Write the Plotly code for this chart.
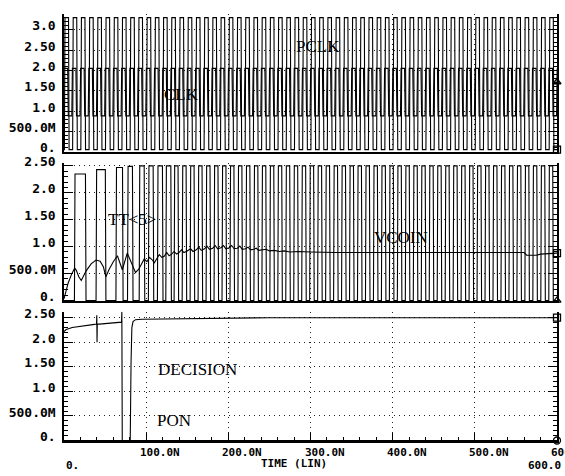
import numpy as np
import plotly.graph_objects as go
from plotly.subplots import make_subplots

T_END = 600.0

# ---------------- panel 1 : PCLK / CLK (edge times in ns) ----------------
PCLK_rise = [0.5, 10.5, 20.5, 30.5, 40.5, 50.5, 60.5, 70.5, 80.5, 90.5,
             100.5, 110.5, 120.5, 130.5, 140.5, 150.5, 160.5, 170.5, 180.5, 190.5,
             200.5, 210.5, 220.5, 230.5, 240.5, 250.5, 260.5, 270.5, 280.5, 290.5,
             300.5, 310.5, 320.5, 330.5, 340.5, 350.5, 360.5, 370.5, 380.5, 390.5,
             400.5, 410.5, 420.5, 430.5, 440.5, 450.5, 460.5, 470.5, 480.5, 490.5,
             500.5, 510.5, 520.5, 530.5, 540.5, 550.5, 560.5, 570.5, 580.5, 590.5]
PCLK_fall = [5.5, 15.5, 25.5, 35.5, 45.5, 55.5, 65.5, 75.5, 85.5, 95.5,
             105.5, 115.5, 125.5, 135.5, 145.5, 155.5, 165.5, 175.5, 185.5, 195.5,
             205.5, 215.5, 225.5, 235.5, 245.5, 255.5, 265.5, 275.5, 285.5, 295.5,
             305.5, 315.5, 325.5, 335.5, 345.5, 355.5, 365.5, 375.5, 385.5, 395.5,
             405.5, 415.5, 425.5, 435.5, 445.5, 455.5, 465.5, 475.5, 485.5, 495.5,
             505.5, 515.5, 525.5, 535.5, 545.5, 555.5, 565.5, 575.5, 585.5, 595.5]
PCLK_low, PCLK_high = 0.05, 3.30

CLK_fall = [4.5, 14.5, 24.5, 34.5, 44.5, 54.5, 64.5, 74.5, 84.5, 94.5,
            104.5, 114.5, 124.5, 134.5, 144.5, 154.5, 164.5, 174.5, 184.5, 194.5,
            204.5, 214.5, 224.5, 234.5, 244.5, 254.5, 264.5, 274.5, 284.5, 294.5,
            304.5, 314.5, 324.5, 334.5, 344.5, 354.5, 364.5, 374.5, 384.5, 394.5,
            404.5, 414.5, 424.5, 434.5, 444.5, 454.5, 464.5, 474.5, 484.5, 494.5,
            504.5, 514.5, 524.5, 534.5, 544.5, 554.5, 564.5, 574.5, 584.5, 594.5]
CLK_rise = [9.5, 19.5, 29.5, 39.5, 49.5, 59.5, 69.5, 79.5, 89.5, 99.5,
            109.5, 119.5, 129.5, 139.5, 149.5, 159.5, 169.5, 179.5, 189.5, 199.5,
            209.5, 219.5, 229.5, 239.5, 249.5, 259.5, 269.5, 279.5, 289.5, 299.5,
            309.5, 319.5, 329.5, 339.5, 349.5, 359.5, 369.5, 379.5, 389.5, 399.5,
            409.5, 419.5, 429.5, 439.5, 449.5, 459.5, 469.5, 479.5, 489.5, 499.5,
            509.5, 519.5, 529.5, 539.5, 549.5, 559.5, 569.5, 579.5, 589.5, 599.5]
CLK_low, CLK_high = 0.88, 2.05

# ---------------- panel 2 : TT<5> / VCOIN ----------------
TT5_rise = [12.7, 39.0, 63.2, 77.3, 91.5, 102.7, 113.7, 123.9, 134.0,
            143.8, 153.5, 163.2, 172.9, 182.6, 192.3, 202.0, 211.7, 221.4, 231.1,
            240.8, 250.5, 260.2, 269.9, 279.6, 289.3, 299.0, 308.7, 318.4, 328.1,
            337.8, 347.5, 357.2, 366.9, 376.6, 386.3, 396.0, 405.7, 415.4, 425.1,
            434.8, 444.5, 454.2, 463.9, 473.6, 483.3, 493.0, 502.7, 512.4, 522.1,
            531.8, 541.5, 551.2, 560.9, 570.6, 580.3, 590.0]
TT5_fall = [26.1, 50.3, 71.2, 83.3, 97.6, 108.5, 119.8, 130.0, 138.8,
            148.6, 158.3, 168.0, 177.7, 187.4, 197.1, 206.8, 216.5, 226.2, 235.9,
            245.6, 255.3, 265.0, 274.7, 284.4, 294.1, 303.8, 313.5, 323.2, 332.9,
            342.6, 352.3, 362.0, 371.7, 381.4, 391.1, 400.8, 410.5, 420.2, 429.9,
            439.6, 449.3, 459.0, 468.7, 478.4, 488.1, 497.8, 507.5, 517.2, 526.9,
            536.6, 546.3, 556.0, 565.7, 575.4, 585.1, 594.8]
TT5_first_tops = [2.35, 2.43, 2.47, 2.49]
TT5_low, TT5_high = 0.0, 2.50

VCOIN_t = [0, 2, 5, 9, 13, 15, 18, 21, 27, 33, 39, 44, 48, 51, 55, 60, 65, 68, 71,
           77, 81, 84, 87, 91, 97.6, 101, 104, 107, 110, 113, 116, 119, 122, 125,
           128, 131, 134, 137, 140, 143, 146, 150, 154, 157, 161, 164, 167, 171,
           174, 177, 181, 184, 187, 191, 194, 197, 201, 204, 207, 211, 214, 217,
           221, 224, 227, 231, 234, 237, 241, 246, 250, 256, 262, 268, 275, 285,
           300, 330, 400, 500, 560, 563, 575, 580, 590, 600]
VCOIN_v = [0.03, 0.15, 0.32, 0.48, 0.60, 0.56, 0.44, 0.37, 0.55, 0.68, 0.75, 0.73,
           0.62, 0.44, 0.58, 0.72, 0.83, 0.70, 0.57, 0.88, 0.74, 0.60, 0.52, 0.58,
           0.77, 0.72, 0.80, 0.76, 0.70, 0.78, 0.85, 0.80, 0.82, 0.89, 0.83, 0.86,
           0.91, 0.86, 0.89, 0.94, 0.89, 0.92, 0.96, 0.91, 0.94, 0.99, 0.93, 0.96,
           1.01, 0.95, 0.97, 1.02, 0.96, 0.98, 1.02, 0.96, 0.98, 1.02, 0.96, 0.97,
           1.01, 0.95, 0.96, 0.99, 0.94, 0.95, 0.97, 0.93, 0.94, 0.95, 0.92, 0.93,
           0.91, 0.92, 0.90, 0.91, 0.90, 0.89, 0.89, 0.89, 0.89, 0.84, 0.84, 0.86,
           0.87, 0.88]

# ---------------- panel 3 : DECISION / PON ----------------
PON_t = [0, 2.7, 10, 20, 27, 35, 39.6, 39.9, 40.2, 40.5, 43, 55, 69, 70.0, 70.4, 70.9, 600]
PON_v = [2.22, 2.26, 2.30, 2.33, 2.35, 2.36, 2.37, 2.55, 2.0, 2.37, 2.37, 2.39, 2.40,
         2.41, 2.62, 0.0, 0.0]
DEC_t = [0, 80.6, 81.6, 82.6, 84, 87, 95, 150, 250, 600]
DEC_v = [0, 0, 1.6, 2.30, 2.42, 2.46, 2.47, 2.48, 2.50, 2.50]

# ---------------- axis labels ----------------
Y1_vals = [0, 0.5, 1.0, 1.5, 2.0, 2.5, 3.0]
Y1_text = ["0.", "500.0M", "1.0", "1.50", "2.0", "2.50", "3.0"]
Y23_vals = [0, 0.5, 1.0, 1.5, 2.0, 2.5]
Y23_text = ["0.", "500.0M", "1.0", "1.50", "2.0", "2.50"]
X_vals = [100, 200, 300, 400, 500, 600]
X_text = ["100.0N", "200.0N", "300.0N", "400.0N", "500.0N", "600.0N"]

EDGE = 0.7  # ns, drawn transition width


def square(rises, falls, lo, hi, tops=None):
    ev = sorted([(t, 1) for t in rises] + [(t, 0) for t in falls])
    level = lo if ev[0][1] == 1 else hi
    xs, ys = [0.0], [level]
    k = 0
    for t, up in ev:
        if up:
            new = tops[k] if (tops is not None and k < len(tops)) else hi
            k += 1
        else:
            new = lo
        xs += [t, t + EDGE]
        ys += [level, new]
        level = new
    xs.append(max(T_END, xs[-1]))
    ys.append(level)
    return np.array(xs), np.array(ys)


pclk_x, pclk_y = square(PCLK_rise, PCLK_fall, PCLK_low, PCLK_high)
clk_x, clk_y = square(CLK_rise, CLK_fall, CLK_low, CLK_high)
tt_x, tt_y = square(TT5_rise, TT5_fall, TT5_low, TT5_high, TT5_first_tops)

fig = make_subplots(rows=3, cols=1, shared_xaxes=True)

LINE = dict(color="black", width=1.1)


def add_line(x, y, row):
    fig.add_trace(go.Scatter(x=x, y=y, mode="lines", line=LINE, hoverinfo="skip"),
                  row=row, col=1)


def add_end_marker(x, y, row, symbol):
    yv = float(np.interp(T_END, x, y))
    fig.add_trace(go.Scatter(x=[T_END], y=[yv], mode="markers", cliponaxis=False,
                             marker=dict(symbol=symbol, size=7, color="black",
                                         line=dict(color="black", width=1.3)),
                             hoverinfo="skip"), row=row, col=1)


add_line(pclk_x, pclk_y, 1)
add_line(clk_x, clk_y, 1)
add_line(tt_x, tt_y, 2)
add_line(VCOIN_t, VCOIN_v, 2)
add_line(PON_t, PON_v, 3)
add_line(DEC_t, DEC_v, 3)

add_end_marker(clk_x, clk_y, 1, "triangle-up-open")
add_end_marker(pclk_x, pclk_y, 1, "square-open")
add_end_marker(tt_x, tt_y, 2, "triangle-up-open")
add_end_marker(np.array(VCOIN_t, float), np.array(VCOIN_v), 2, "square-open")
add_end_marker(np.array(DEC_t, float), np.array(DEC_v), 3, "square-open")
add_end_marker(np.array(PON_t, float), np.array(PON_v), 3, "circle-open")

TICKFONT_Y = dict(family="DejaVu Sans Mono", size=13, color="black", weight="bold")
SMALL = dict(family="DejaVu Sans Mono", size=11, color="black", weight="bold")
GRID = dict(showgrid=True, gridcolor="#222", gridwidth=1, griddash="1px,4px")

yaxis_common = dict(
    showline=True, linecolor="black", linewidth=1.5, mirror="allticks",
    ticks="inside", ticklen=9, tickwidth=1.3, tickcolor="black",
    minor=dict(ticks="inside", ticklen=4, dtick=0.1, tickcolor="black", tickwidth=1,
               showgrid=False),
    tickfont=TICKFONT_Y, ticklabelstandoff=4, ticklabelshift=-4,
    zeroline=False, **GRID)

fig.update_yaxes(domain=[0.6767, 1.0], range=[-0.01, 3.39], tickvals=Y1_vals,
                 ticktext=Y1_text, row=1, col=1, **yaxis_common)
fig.update_yaxes(domain=[0.3279, 0.6513], range=[-0.01, 2.555], tickvals=Y23_vals,
                 ticktext=Y23_text, row=2, col=1, **yaxis_common)
fig.update_yaxes(domain=[0.0, 0.3025], range=[-0.01, 2.62], tickvals=Y23_vals,
                 ticktext=Y23_text, row=3, col=1, **yaxis_common)

xaxis_common = dict(range=[0, T_END], tickvals=X_vals, showticklabels=False,
                    showline=True, linecolor="black", linewidth=1.5,
                    zeroline=False, **GRID)
fig.update_xaxes(row=1, col=1, ticks="", **xaxis_common)
fig.update_xaxes(row=2, col=1, ticks="", **xaxis_common)
fig.update_xaxes(row=3, col=1, ticks="inside", ticklen=8,
                 tickwidth=1.3, tickcolor="black",
                 minor=dict(ticks="inside", ticklen=4, dtick=20, tickcolor="black",
                            showgrid=False),
                 **xaxis_common)

# x tick labels (HSPICE style: offset to the right of each tick)
for xv, txt in zip(X_vals, X_text):
    fig.add_annotation(x=xv, y=-0.026, xref="x3", yref="paper", text=txt,
                       showarrow=False, font=SMALL, xanchor="center",
                       yanchor="middle", xshift=14)

LABELFONT = dict(family="Liberation Serif", size=17, color="black")
labels = [("PCLK", 309.7, 2.59, "x", "y"),
          ("CLK", 143.6, 1.40, "x", "y"),
          ("TT<5>", 83.0, 1.51, "x2", "y2"),
          ("VCOIN", 410.0, 1.17, "x2", "y2"),
          ("DECISION", 163.0, 1.44, "x3", "y3"),
          ("PON", 134.0, 0.40, "x3", "y3")]
for txt, xv, yv, xr, yr in labels:
    fig.add_annotation(x=xv, y=yv, xref=xr, yref=yr,
                       text=txt.replace("<", "&lt;").replace(">", "&gt;"),
                       showarrow=False, font=LABELFONT, xanchor="center",
                       yanchor="middle")

fig.add_annotation(x=0.467, y=-0.052, xref="paper", yref="paper", text="TIME (LIN)",
                   showarrow=False, font=SMALL, xanchor="center", yanchor="middle")
fig.add_annotation(x=0.0, y=-0.058, xref="paper", yref="paper", text="0.",
                   showarrow=False, font=SMALL, xanchor="left", yanchor="middle")
fig.add_annotation(x=1.012, y=-0.058, xref="paper", yref="paper", text="600.0",
                   showarrow=False, font=SMALL, xanchor="right", yanchor="middle")

fig.update_layout(width=565, height=476, margin=dict(l=64, r=6, t=8, b=35),
                  paper_bgcolor="white", plot_bgcolor="white", showlegend=False)

fig.write_html("out.html", config={"displayModeBar": False},
               post_script="document.body.style.margin='0px';document.body.style.overflow='hidden';")
